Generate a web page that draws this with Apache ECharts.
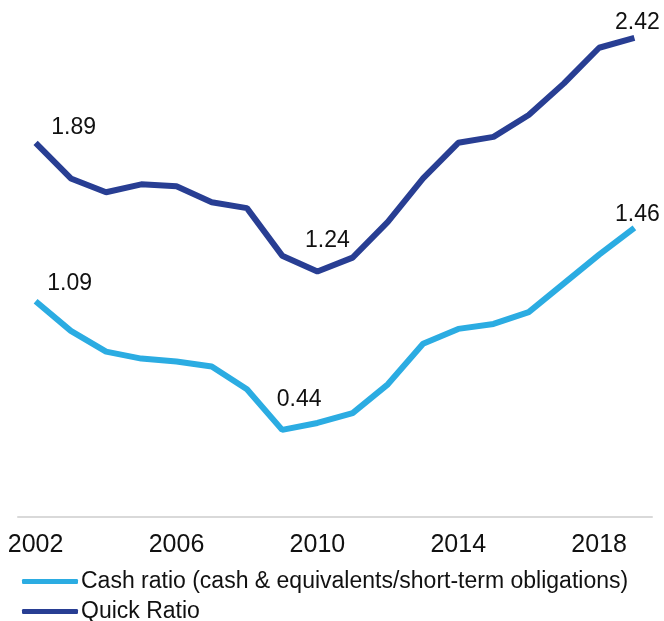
<!DOCTYPE html>
<html>
<head>
<meta charset="utf-8">
<script src="https://cdn.jsdelivr.net/npm/echarts@6/dist/echarts.min.js"></script>
<style>html,body{margin:0;padding:0;background:#fff;}#c{width:664px;height:621px;}</style>
</head>
<body>
<div id="c"></div>
<script>
const years = ['2002','2003','2004','2005','2006','2007','2008','2009','2010','2011','2012','2013','2014','2015','2016','2017','2018','2019'];
const cashRatio = [1.09, 0.94, 0.835, 0.80, 0.785, 0.76, 0.645, 0.44, 0.475, 0.525, 0.67, 0.875, 0.95, 0.975, 1.035, 1.18, 1.325, 1.46];
const quickRatio = [1.89, 1.71, 1.64, 1.68, 1.67, 1.59, 1.56, 1.32, 1.24, 1.31, 1.49, 1.71, 1.89, 1.92, 2.03, 2.19, 2.37, 2.42];
const seriesNames = ['Cash ratio (cash & equivalents/short-term obligations)', 'Quick Ratio'];
const cashLabelIdx = [0, 7, 17];
const quickLabelIdx = [0, 8, 17];

const FONT = 'Liberation Sans';
const labelOffsets = {
  cash: {0: [34, -6], 7: [17, -19], 17: [3, -2]},
  quick: {0: [38, -4], 8: [10, -19], 17: [3, -4]}
};
function buildData(vals, idxs, offs) {
  return vals.map((v, i) => {
    if (idxs.indexOf(i) < 0) return v;
    return {
      value: v,
      label: {
        show: true, position: 'top', distance: 0, offset: offs[i],
        formatter: p => p.value.toFixed(2),
        fontFamily: FONT, fontSize: 23, color: '#111'
      }
    };
  });
}

const chart = echarts.init(document.getElementById('c'), null, {renderer: 'canvas'});
chart.setOption({
  animation: false,
  backgroundColor: '#fff',
  grid: {left: 18, right: 12, top: 22, bottom: 104, containLabel: false},
  legend: {
    orient: 'vertical', left: 22, top: 570, height: 60, padding: 0,
    itemWidth: 56, itemHeight: 5, itemGap: 7,
    icon: 'roundRect',
    textStyle: {fontFamily: FONT, fontSize: 23, color: '#111', padding: [0, 0, 0, -2], lineHeight: 22},
    data: seriesNames
  },
  xAxis: {
    type: 'category', data: years, boundaryGap: true,
    axisLine: {lineStyle: {color: '#d9d9d9', width: 2}},
    axisTick: {show: false},
    axisLabel: {interval: 3, fontFamily: FONT, fontSize: 25, color: '#111', margin: 16}
  },
  yAxis: {
    type: 'value', min: 0, max: 2.5, show: false,
    splitLine: {show: false}
  },
  series: [
    {
      name: seriesNames[0], type: 'line', data: buildData(cashRatio, cashLabelIdx, labelOffsets.cash),
      symbol: 'circle', symbolSize: 0, showSymbol: true,
      lineStyle: {color: '#2BACE2', width: 6}, itemStyle: {color: '#2BACE2'}
    },
    {
      name: seriesNames[1], type: 'line', data: buildData(quickRatio, quickLabelIdx, labelOffsets.quick),
      symbol: 'circle', symbolSize: 0, showSymbol: true,
      lineStyle: {color: '#283E93', width: 6}, itemStyle: {color: '#283E93'}
    }
  ]
});
</script>
</body>
</html>
